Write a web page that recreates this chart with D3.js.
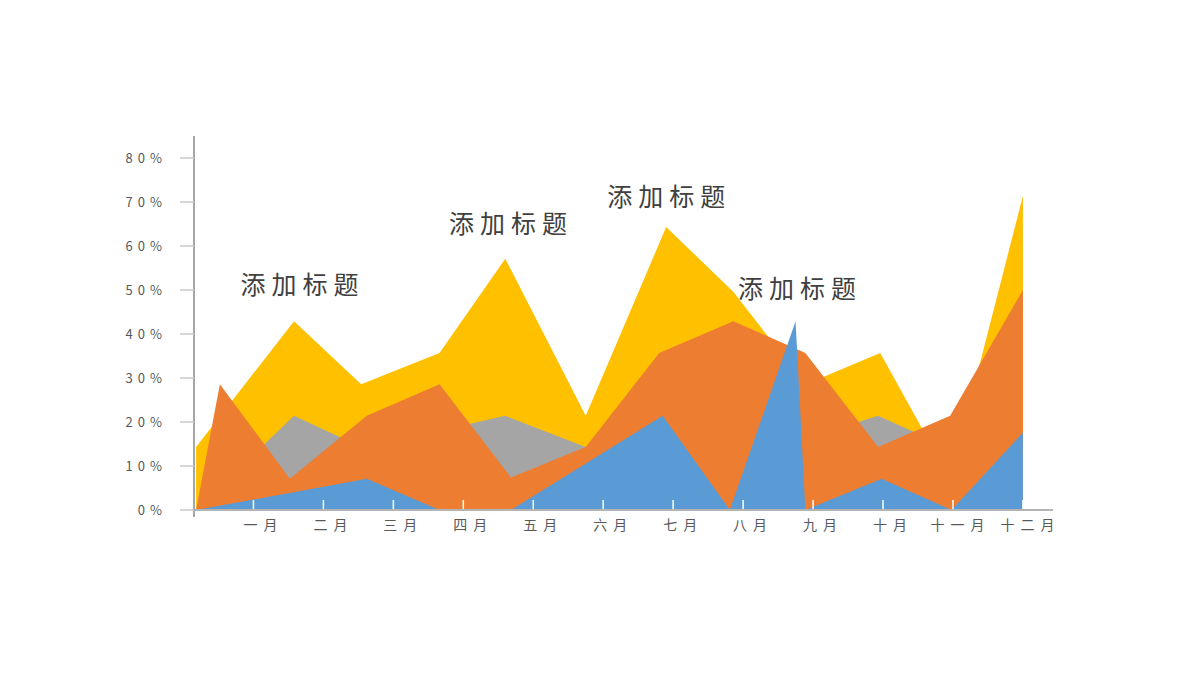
<!DOCTYPE html>
<html>
<head>
<meta charset="utf-8">
<script src="https://cdn.jsdelivr.net/npm/d3@7.9.0/dist/d3.min.js"></script>
<style>
  html, body { margin: 0; padding: 0; background: #fff; }
  svg { display: block; font-family: "Noto Sans CJK SC", "Noto Sans", sans-serif; }
</style>
</head>
<body>
<svg id="chart" width="1200" height="675"></svg>
<script>
// month labels on the x axis
const months = ['一月', '二月', '三月', '四月', '五月', '六月', '七月', '八月', '九月', '十月', '十一月', '十二月'];
const yTicks = [0, 10, 20, 30, 40, 50, 60, 70, 80];

// each series: [position in months, value in %]
const yellowSeries = [[0.18, 14.3], [1.58, 42.9], [2.54, 28.6], [3.66, 35.7], [4.60, 57.1], [5.75, 21.4],
  [6.90, 64.3], [7.86, 49.6], [8.89, 28.5], [9.96, 35.7], [10.96, 7], [12, 71.4]];
const greySeries = [[0.18, 0], [1.58, 21.4], [2.54, 14.3], [3.66, 18], [4.60, 21.4], [5.75, 14.3],
  [6.90, 15], [7.86, 15], [8.89, 16.2], [9.93, 21.4], [10.96, 14], [12, 14]];
const orangeSeries = [[0.18, 0], [0.52, 28.6], [1.52, 7.1], [2.62, 21.4], [3.66, 28.6], [4.68, 7.4],
  [5.75, 14.3], [6.80, 35.7], [7.86, 42.9], [8.89, 35.7], [9.93, 14.3], [10.96, 21.4], [12, 50]];
const blueSeries = [[0.18, 0], [2.62, 7.1], [3.66, 0], [4.68, 0], [6.85, 21.4], [7.81, 0],
  [8.75, 42.9], [8.89, 0], [9.98, 7.1], [10.98, 0], [12, 17.6]];

// "添加标题" annotations: [position in months, value in %]
const notes = [[1.66, 51], [4.64, 65], [6.90, 71], [8.77, 50.2]];
const noteText = '添加标题';

const svg = d3.select('#chart');

const x = d3.scaleLinear().domain([0.15, 12.43]).range([194, 1053]);
const y = d3.scaleLinear().domain([0, 80]).range([510, 158]);

const series = [
  { data: yellowSeries, color: '#FFC000' },
  { data: greySeries, color: '#A5A5A5' },
  { data: orangeSeries, color: '#ED7D31' },
  { data: blueSeries, color: '#5B9BD5' }
];

const area = d3.area()
  .x((d) => x(d[0]))
  .y0(y(0))
  .y1((d) => y(d[1]));

series.forEach((s) => {
  svg.append('path')
    .attr('d', area(s.data))
    .attr('fill', s.color);
});

// white inner ticks on x axis
svg.append('g')
  .selectAll('line')
  .data(months)
  .join('line')
  .attr('x1', (d, i) => x(i + 1))
  .attr('x2', (d, i) => x(i + 1))
  .attr('y1', y(0))
  .attr('y2', y(0) - 10)
  .attr('stroke', '#fff')
  .attr('stroke-width', 1.5);

// x axis line
svg.append('line')
  .attr('x1', x(0.15) - 1).attr('x2', x(12.43))
  .attr('y1', y(0)).attr('y2', y(0))
  .attr('stroke', '#B4B4B4')
  .attr('stroke-width', 2);

svg.append('line')
  .attr('x1', x(0.15)).attr('x2', x(0.15))
  .attr('y1', y(85)).attr('y2', y(0) + 7)
  .attr('stroke', '#A6A6A6')
  .attr('stroke-width', 2);

// y ticks
svg.append('g')
  .selectAll('line')
  .data(yTicks)
  .join('line')
  .attr('x1', x(0.15) - 14)
  .attr('x2', x(0.15))
  .attr('y1', (d) => y(d))
  .attr('y2', (d) => y(d))
  .attr('stroke', '#C8C8C8')
  .attr('stroke-width', 1.5);

svg.append('g')
  .selectAll('text')
  .data(yTicks)
  .join('text')
  .attr('x', x(0.15) - 32 + 5)
  .attr('y', (d) => y(d))
  .attr('dy', '0.35em')
  .attr('text-anchor', 'end')
  .attr('font-size', 13)
  .attr('letter-spacing', 5)
  .attr('fill', '#595959')
  .text((d) => d + '%');

// month labels
svg.append('g')
  .selectAll('text')
  .data(months)
  .join('text')
  .attr('x', (d, i) => x(i + 1) + (d.length === 2 ? 7 : 4.5) + 3)
  .attr('y', y(0) + 20)
  .attr('text-anchor', 'middle')
  .attr('font-size', 14)
  .attr('letter-spacing', 6)
  .attr('fill', '#595959')
  .text((d) => d);

// annotations
svg.append('g')
  .selectAll('text')
  .data(notes)
  .join('text')
  .attr('x', (d) => x(d[0]) + 3)
  .attr('y', (d) => y(d[1]))
  .attr('dy', '0.35em')
  .attr('text-anchor', 'middle')
  .attr('font-size', 25)
  .attr('letter-spacing', 6)
  .attr('fill', '#404040')
  .text(noteText);
</script>
</body>
</html>
